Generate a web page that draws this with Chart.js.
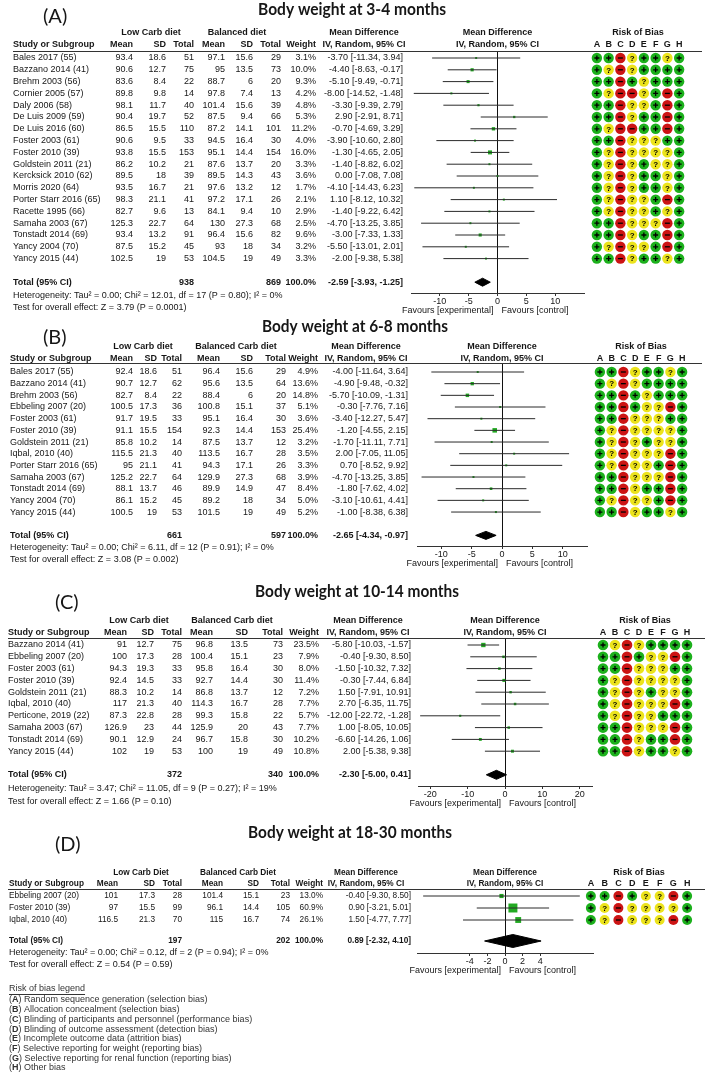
<!DOCTYPE html>
<html><head><meta charset="utf-8">
<script src="https://cdn.jsdelivr.net/npm/chart.js@4.4.1/dist/chart.umd.min.js"></script>
<style>
html,body{margin:0;padding:0;background:#fff;}
#page{position:relative;width:709px;height:1076px;overflow:hidden;background:#fff;}
#page canvas{position:absolute;left:0;}
</style></head><body><div id="page"></div>
<script>
// ================= DATA =================
// ---- Panel A: 3-4 months ----
const titleA = "Body weight at 3-4 months";
const groupsA = ["Low Carb diet", "Balanced diet"];
const studiesA = ["Bales 2017 (55)","Bazzano 2014 (41)","Brehm 2003 (56)","Cornier 2005 (57)","Daly 2006 (58)","De Luis 2009 (59)","De Luis 2016 (60)","Foster 2003 (61)","Foster 2010 (39)","Goldstein 2011 (21)","Kercksick 2010 (62)","Morris 2020 (64)","Porter Starr 2016 (65)","Racette 1995 (66)","Samaha 2003 (67)","Tonstadt 2014 (69)","Yancy 2004 (70)","Yancy 2015 (44)"];
const lcMeanA = [93.4,90.6,83.6,89.8,98.1,90.4,86.5,90.6,93.8,86.2,89.5,93.5,98.3,82.7,125.3,93.4,87.5,102.5];
const lcSdA = [18.6,12.7,8.4,9.8,11.7,19.7,15.5,9.5,15.5,10.2,18,16.7,21.1,9.6,22.7,13.2,15.2,19];
const lcNA = [51,75,22,14,40,52,110,33,153,21,39,21,41,13,64,91,45,53];
const bcMeanA = [97.1,95,88.7,97.8,101.4,87.5,87.2,94.5,95.1,87.6,89.5,97.6,97.2,84.1,130,96.4,93,104.5];
const bcSdA = [15.6,13.5,6,7.4,15.6,9.4,14.1,16.4,14.4,13.7,14.3,13.2,17.1,9.4,27.3,15.6,18,19];
const bcNA = [29,73,20,13,39,66,101,30,154,20,43,12,26,10,68,82,34,49];
const weightA = [3.1,10.0,9.3,4.2,4.8,5.3,11.2,4.0,16.0,3.3,3.6,1.7,2.1,2.9,2.5,9.6,3.2,3.3];
const mdA = [-3.70,-4.40,-5.10,-8.00,-3.30,2.90,-0.70,-3.90,-1.30,-1.40,0.00,-4.10,1.10,-1.40,-4.70,-3.00,-5.50,-2.00];
const loA = [-11.34,-8.63,-9.49,-14.52,-9.39,-2.91,-4.69,-10.60,-4.65,-8.82,-7.08,-14.43,-8.12,-9.22,-13.25,-7.33,-13.01,-9.38];
const hiA = [3.94,-0.17,-0.71,-1.48,2.79,8.71,3.29,2.80,2.05,6.02,7.08,6.23,10.32,6.42,3.85,1.33,2.01,5.38];
const robA = ["++-?++?+","+?-?++++","++-+?+++","+?--?+-+","++-??+-+","++-?++-+","+?--++-+","++-???++","+?-????+","+?-?+??+","+?-?++?+","+?-?++?+","+?-??+-+","+?-??+?+","++-???-+","++-?++-+","+?-??+-+","++-?++?+"];
const totalA = [938, 869, -2.59, -3.93, -1.25];
const hetA = "Heterogeneity: Tau² = 0.00; Chi² = 12.01, df = 17 (P = 0.80); I² = 0%";
const testA = "Test for overall effect: Z = 3.79 (P = 0.0001)";
const ticksA = [-10, -5, 0, 5, 10];

// ---- Panel B: 6-8 months ----
const titleB = "Body weight at 6-8 months";
const groupsB = ["Low Carb diet", "Balanced Carb diet"];
const studiesB = ["Bales 2017 (55)","Bazzano 2014 (41)","Brehm 2003 (56)","Ebbeling 2007 (20)","Foster 2003 (61)","Foster 2010 (39)","Goldstein 2011 (21)","Iqbal, 2010 (40)","Porter Starr 2016 (65)","Samaha 2003 (67)","Tonstadt 2014 (69)","Yancy 2004 (70)","Yancy 2015 (44)"];
const lcMeanB = [92.4,90.7,82.7,100.5,91.7,91.1,85.8,115.5,95,125.2,88.1,86.1,100.5];
const lcSdB = [18.6,12.7,8.4,17.3,19.5,15.5,10.2,21.3,21.1,22.7,13.7,15.2,19];
const lcNB = [51,62,22,36,33,154,14,40,41,64,46,45,53];
const bcMeanB = [96.4,95.6,88.4,100.8,95.1,92.3,87.5,113.5,94.3,129.9,89.9,89.2,101.5];
const bcSdB = [15.6,13.5,6,15.1,16.4,14.4,13.7,16.7,17.1,27.3,14.9,18,19];
const bcNB = [29,64,20,37,30,153,12,28,26,68,47,34,49];
const weightB = [4.9,13.6,14.8,5.1,3.6,25.4,3.2,3.5,3.3,3.9,8.4,5.0,5.2];
const mdB = [-4.00,-4.90,-5.70,-0.30,-3.40,-1.20,-1.70,2.00,0.70,-4.70,-1.80,-3.10,-1.00];
const loB = [-11.64,-9.48,-10.09,-7.76,-12.27,-4.55,-11.11,-7.05,-8.52,-13.25,-7.62,-10.61,-8.38];
const hiB = [3.64,-0.32,-1.31,7.16,5.47,2.15,7.71,11.05,9.92,3.85,4.02,4.41,6.38];
const robB = ["++-?++?+","+?-?++++","++-+?+++","++-+??-+","++-???++","+?-????+","+?-?+??+","+?-???-+","+?-??+-+","++-???-+","++-?++-+","+?-??+-+","++-?++?+"];
const totalB = [661, 597, -2.65, -4.34, -0.97];
const hetB = "Heterogeneity: Tau² = 0.00; Chi² = 6.11, df = 12 (P = 0.91); I² = 0%";
const testB = "Test for overall effect: Z = 3.08 (P = 0.002)";
const ticksB = [-10, -5, 0, 5, 10];

// ---- Panel C: 10-14 months ----
const titleC = "Body weight at 10-14 months";
const groupsC = ["Low Carb diet", "Balanced Carb diet"];
const studiesC = ["Bazzano 2014 (41)","Ebbeling 2007 (20)","Foster 2003 (61)","Foster 2010 (39)","Goldstein 2011 (21)","Iqbal, 2010 (40)","Perticone, 2019 (22)","Samaha 2003 (67)","Tonstadt 2014 (69)","Yancy 2015 (44)"];
const lcMeanC = [91,100,94.3,92.4,88.3,117,87.3,126.9,90.1,102];
const lcSdC = [12.7,17.3,19.3,14.5,10.2,21.3,22.8,23,12.9,19];
const lcNC = [75,28,33,33,14,40,28,44,24,53];
const bcMeanC = [96.8,100.4,95.8,92.7,86.8,114.3,99.3,125.9,96.7,100];
const bcSdC = [13.5,15.1,16.4,14.4,13.7,16.7,15.8,20,15.8,19];
const bcNC = [73,23,30,30,12,28,22,43,30,49];
const weightC = [23.5,7.9,8.0,11.4,7.2,7.7,5.7,7.7,10.2,10.8];
const mdC = [-5.80,-0.40,-1.50,-0.30,1.50,2.70,-12.00,1.00,-6.60,2.00];
const loC = [-10.03,-9.30,-10.32,-7.44,-7.91,-6.35,-22.72,-8.05,-14.26,-5.38];
const hiC = [-1.57,8.50,7.32,6.84,10.91,11.75,-1.28,10.05,1.06,9.38];
const robC = ["+?-?++++","++-+??-+","++-???++","+?-????+","+?-?+??+","+?-???-+","+?-??+++","++-???-+","++-?++-+","++-?++?+"];
const totalC = [372, 340, -2.30, -5.00, 0.41];
const hetC = "Heterogeneity: Tau² = 3.47; Chi² = 11.05, df = 9 (P = 0.27); I² = 19%";
const testC = "Test for overall effect: Z = 1.66 (P = 0.10)";
const ticksC = [-20, -10, 0, 10, 20];

// ---- Panel D: 18-30 months ----
const titleD = "Body weight at 18-30 months";
const groupsD = ["Low Carb Diet", "Balanced Carb Diet"];
const studiesD = ["Ebbeling 2007 (20)","Foster 2010 (39)","Iqbal, 2010 (40)"];
const lcMeanD = [101,97,116.5];
const lcSdD = [17.3,15.5,21.3];
const lcND = [28,99,70];
const bcMeanD = [101.4,96.1,115];
const bcSdD = [15.1,14.4,16.7];
const bcND = [23,105,74];
const weightD = [13.0,60.9,26.1];
const mdD = [-0.40,0.90,1.50];
const loD = [-9.30,-3.21,-4.77];
const hiD = [8.50,5.01,7.77];
const robD = ["++-+??-+","+?-????+","+?-???-+"];
const totalD = [197, 202, 0.89, -2.32, 4.10];
const hetD = "Heterogeneity: Tau² = 0.00; Chi² = 0.12, df = 2 (P = 0.94); I² = 0%";
const testD = "Test for overall effect: Z = 0.54 (P = 0.59)";
const ticksD = [-4, -2, 0, 2, 4];

// ---- shared text ----
const robLetters = ["A","B","C","D","E","F","G","H"];
const robLegendTitle = "Risk of bias legend";
const robLegend = ["Random sequence generation (selection bias)","Allocation concealment (selection bias)","Blinding of participants and personnel (performance bias)","Blinding of outcome assessment (detection bias)","Incomplete outcome data (attrition bias)","Selective reporting for weight (reporting bias)","Selective reporting for renal function (reporting bias)","Other bias"];
const headerText = ["Study or Subgroup","Mean","SD","Total","Weight","Mean Difference","IV, Random, 95% CI","Risk of Bias","Total (95% CI)","100.0%","Favours [experimental]","Favours [control]"];

// ================= LAYOUT (positions / styles) =================
const FONT = '"Liberation Sans", Arial, sans-serif';
const INK = '#161616';
const ROB_COLORS = {'+':'#1cb01c','?':'#ece31c','-':'#cc1414'};
const SQ_COLOR = '#22aa22';
const layoutA = {top:0,bottom:318,titleY:10,tcx:352,tw:188,labX:43,labY:17,h1Y:33,h2Y:45,lineY:51,row0:58,sp:11.8,totalIdx:19,hetY:296,testY:308,axisY:293,fx:[411,584],range:[-15,15],rx:[591,685],rr:5.2,mk:1.0,dh:4,lineX:[13,702],sx:1,
  cols:{study:13,m1:133,s1:166,n1:194,m2:225,s2:253,n2:281,w:316,ci:403,g1:151,g2:237,mdc:364}};
const layoutB = {top:318,bottom:575,titleY:327,tcx:355,tw:186,labX:43,labY:338,h1Y:347,h2Y:359,lineY:363,row0:372,sp:11.67,totalIdx:14,hetY:548,testY:560,axisY:546,fx:[417,587],range:[-14,14],rx:[594,688],rr:5.2,mk:0.9,dh:4,lineX:[10,702],sx:1,
  cols:{study:10,m1:133,s1:157,n1:182,m2:220,s2:253,n2:286,w:318,ci:408,g1:143,g2:236,mdc:366}};
const layoutC = {top:575,bottom:815,titleY:592,tcx:357,tw:204,labX:55,labY:603,h1Y:621,h2Y:633,lineY:638,row0:645,sp:11.8,totalIdx:11,hetY:789,testY:802,axisY:786,fx:[418,592],range:[-23.3,23.3],rx:[597,693],rr:5.3,mk:0.9,dh:4.5,lineX:[8,705],sx:1,
  cols:{study:8,m1:127,s1:154,n1:182,m2:213,s2:248,n2:283,w:319,ci:411,g1:139,g2:232,mdc:368}};
const layoutD = {top:815,bottom:1076,titleY:833,tcx:350,tw:204,labX:55,labY:845,h1Y:873,h2Y:884,lineY:889,row0:896,sp:12,totalIdx:3.75,hetY:953,testY:965,axisY:953,fx:[417,593],range:[-10,10],rx:[584,694],rr:5,mk:1.15,dh:6.5,lineX:[8,705],sx:0.92,
  cols:{study:9,m1:118,s1:155,n1:182,m2:223,s2:259,n2:290,w:323,ci:411,g1:141,g2:238,mdc:366},
  legend:{x:9,titleY:989,y0:1000,sp:9.7}};

const panels = [
  {label:'(A)',title:titleA,groups:groupsA,studies:studiesA,m1:lcMeanA,s1:lcSdA,n1:lcNA,m2:bcMeanA,s2:bcSdA,n2:bcNA,w:weightA,md:mdA,lo:loA,hi:hiA,rob:robA,total:totalA,het:hetA,test:testA,ticks:ticksA,Lt:layoutA},
  {label:'(B)',title:titleB,groups:groupsB,studies:studiesB,m1:lcMeanB,s1:lcSdB,n1:lcNB,m2:bcMeanB,s2:bcSdB,n2:bcNB,w:weightB,md:mdB,lo:loB,hi:hiB,rob:robB,total:totalB,het:hetB,test:testB,ticks:ticksB,Lt:layoutB},
  {label:'(C)',title:titleC,groups:groupsC,studies:studiesC,m1:lcMeanC,s1:lcSdC,n1:lcNC,m2:bcMeanC,s2:bcSdC,n2:bcNC,w:weightC,md:mdC,lo:loC,hi:hiC,rob:robC,total:totalC,het:hetC,test:testC,ticks:ticksC,Lt:layoutC},
  {label:'(D)',title:titleD,groups:groupsD,studies:studiesD,m1:lcMeanD,s1:lcSdD,n1:lcND,m2:bcMeanD,s2:bcSdD,n2:bcND,w:weightD,md:mdD,lo:loD,hi:hiD,rob:robD,total:totalD,het:hetD,test:testD,ticks:ticksD,Lt:layoutD}
];

// ================= DRAWING =================
const page = document.getElementById('page');
const XH = 24;
const fmtCI = (m,l,h) => m.toFixed(2) + ' [' + l.toFixed(2) + ', ' + h.toFixed(2) + ']';

function newCanvas(Lt){
  const cv = document.createElement('canvas');
  cv.width = 709; cv.height = Lt.bottom - Lt.top;
  cv.style.top = Lt.top + 'px';
  cv.style.width = '709px'; cv.style.height = (Lt.bottom - Lt.top) + 'px';
  page.appendChild(cv);
  return cv;
}
function yRange(Lt){
  const yMin = -(Lt.row0 - Lt.lineY) / Lt.sp;
  return [yMin, yMin + (Lt.axisY - Lt.lineY) / Lt.sp];
}

function forestText(P){
  const Lt = P.Lt, c = Lt.cols;
  return {id:'forestText', afterDraw(chart){
    const ctx = chart.ctx, ys = chart.scales.y, xs = chart.scales.x, ca = chart.chartArea;
    const L = v => v - Lt.top;
    const B = 'bold 9px ' + FONT, R = '9px ' + FONT;
    const t = (s, x, y, a, f, sx) => {
      s = String(s); ctx.font = f; ctx.textAlign = a;
      const k = sx === undefined ? Lt.sx : sx;
      if (k < 1) ctx.fillText(s, x, y, ctx.measureText(s).width * k); else ctx.fillText(s, x, y);
    };
    ctx.save();
    ctx.fillStyle = INK; ctx.textBaseline = 'middle';
    ctx.font = 'bold 17px Lato, "Open Sans", sans-serif'; ctx.textAlign = 'center';
    ctx.fillText(P.title, Lt.tcx, L(Lt.titleY), Lt.tw);
    t(P.label, Lt.labX, L(Lt.labY), 'left', '20px Lato, "Open Sans", sans-serif', 1);
    // headers
    t(P.groups[0], c.g1, L(Lt.h1Y), 'center', B);
    t(P.groups[1], c.g2, L(Lt.h1Y), 'center', B);
    t(headerText[5], c.mdc, L(Lt.h1Y), 'center', B);
    t(headerText[5], (ca.left + ca.right) / 2, L(Lt.h1Y), 'center', B);
    t(headerText[0], c.study, L(Lt.h2Y), 'left', B);
    [[headerText[1],c.m1],[headerText[2],c.s1],[headerText[3],c.n1],[headerText[1],c.m2],[headerText[2],c.s2],[headerText[3],c.n2],[headerText[4],c.w]]
      .forEach(([s,x]) => t(s, x, L(Lt.h2Y), 'right', B));
    t(headerText[6], c.mdc, L(Lt.h2Y), 'center', B);
    t(headerText[6], (ca.left + ca.right) / 2, L(Lt.h2Y), 'center', B);
    // header rule
    ctx.strokeStyle = '#333'; ctx.lineWidth = 1;
    ctx.beginPath(); ctx.moveTo(Lt.lineX[0], Math.round(ca.top) + 0.5); ctx.lineTo(Lt.lineX[1], Math.round(ca.top) + 0.5); ctx.stroke();
    // rows
    P.studies.forEach((s, i) => {
      const y = ys.getPixelForValue(i);
      t(s, c.study, y, 'left', R);
      t(P.m1[i], c.m1, y, 'right', R); t(P.s1[i], c.s1, y, 'right', R); t(P.n1[i], c.n1, y, 'right', R);
      t(P.m2[i], c.m2, y, 'right', R); t(P.s2[i], c.s2, y, 'right', R); t(P.n2[i], c.n2, y, 'right', R);
      t(P.w[i].toFixed(1) + '%', c.w, y, 'right', R);
      t(fmtCI(P.md[i], P.lo[i], P.hi[i]), c.ci, y, 'right', R);
    });
    const ty = ys.getPixelForValue(Lt.totalIdx);
    t(headerText[8], c.study, ty, 'left', B);
    t(P.total[0], c.n1, ty, 'right', B);
    t(P.total[1], c.n2, ty, 'right', B);
    t(headerText[9], c.w, ty, 'right', B);
    t(fmtCI(P.total[2], P.total[3], P.total[4]), c.ci, ty, 'right', B);
    t(P.het, c.study, L(Lt.hetY), 'left', R, 1);
    t(P.test, c.study, L(Lt.testY), 'left', R, 1);
    // favours labels
    const z = xs.getPixelForValue(0), fy = ca.bottom + 18;
    t(headerText[10], z - 4, fy, 'right', R, 1);
    t(headerText[11], z + 4, fy, 'left', R, 1);
    // legend (panel D)
    if (Lt.legend) {
      const g = Lt.legend;
      ctx.fillStyle = '#333';
      t(robLegendTitle, g.x, L(g.titleY), 'left', R, 1);
      ctx.font = R; const lw = ctx.measureText(robLegendTitle).width;
      ctx.strokeStyle = '#333'; ctx.beginPath(); ctx.moveTo(g.x, L(g.titleY) + 5.5); ctx.lineTo(g.x + lw, L(g.titleY) + 5.5); ctx.stroke();
      robLegend.forEach((s, k) => {
        const y = L(g.y0 + k * g.sp);
        let x = g.x;
        ctx.font = R; ctx.textAlign = 'left'; ctx.fillText('(', x, y); x += ctx.measureText('(').width;
        ctx.font = B; ctx.fillText(robLetters[k], x, y); x += ctx.measureText(robLetters[k]).width;
        ctx.font = R; ctx.fillText(') ' + s, x, y);
      });
    }
    ctx.restore();
  }};
}

function makeForest(P){
  const Lt = P.Lt, cv = newCanvas(Lt), H = Lt.bottom - Lt.top;
  const [yMin, yMax] = yRange(Lt);
  const datasets = [];
  P.studies.forEach((s, i) => datasets.push({type:'line', data:[{x:P.lo[i], y:i},{x:P.hi[i], y:i}], borderColor:'#2a2a2a', borderWidth:1, pointRadius:0, fill:false}));
  datasets.push({type:'scatter', data:P.md.map((m, i) => ({x:m, y:i})), pointStyle:'rect',
    pointRadius:P.w.map(w => Math.max(2, Lt.mk * Math.sqrt(w)) / Math.SQRT2), backgroundColor:SQ_COLOR, borderColor:SQ_COLOR, borderWidth:0});
  const r = Lt.totalIdx, d = Lt.dh / Lt.sp, T = P.total;
  datasets.push({type:'line', data:[{x:T[3],y:r},{x:T[2],y:r-d},{x:T[4],y:r},{x:T[2],y:r+d},{x:T[3],y:r}],
    borderColor:'#000', backgroundColor:'#000', borderWidth:1, pointRadius:0, fill:'shape', tension:0});
  new Chart(cv, {type:'scatter', data:{datasets},
    options:{responsive:false, animation:false, devicePixelRatio:1, events:[],
      layout:{padding:{left:Lt.fx[0], right:709 - Lt.fx[1], top:Lt.lineY - Lt.top, bottom:H - (Lt.axisY - Lt.top) - XH}},
      plugins:{legend:{display:false}, tooltip:{enabled:false}},
      scales:{
        x:{type:'linear', min:Lt.range[0], max:Lt.range[1],
          afterBuildTicks:s => { s.ticks = P.ticks.map(v => ({value:v})); },
          afterFit:s => { s.height = XH; },
          ticks:{font:{family:FONT, size:9}, color:INK, padding:0, maxRotation:0, autoSkip:false, callback:v => String(v)},
          grid:{color:c => (c.tick && c.tick.value === 0) ? '#111' : 'rgba(0,0,0,0)', tickColor:'#333', tickLength:3, lineWidth:1},
          border:{display:true, color:'#333', width:1}},
        y:{type:'linear', reverse:true, min:yMin, max:yMax, display:false}
      }},
    plugins:[forestText(P)]});
}

function robSymbols(P){
  const Lt = P.Lt;
  return {id:'robSymbols', afterDatasetsDraw(chart){
    const ctx = chart.ctx, meta = chart.getDatasetMeta(0), xs = chart.scales.x, ca = chart.chartArea;
    const L = v => v - Lt.top;
    ctx.save();
    ctx.fillStyle = INK; ctx.strokeStyle = '#000'; ctx.textBaseline = 'middle'; ctx.textAlign = 'center';
    ctx.font = 'bold 9px ' + FONT;
    ctx.fillText(headerText[7], (ca.left + ca.right) / 2, L(Lt.h1Y));
    robLetters.forEach((l, j) => ctx.fillText(l, xs.getPixelForValue(j), L(Lt.h2Y)));
    const data = chart.data.datasets[0].data;
    meta.data.forEach((pt, k) => {
      const v = data[k].j, x = pt.x, y = pt.y;
      ctx.lineWidth = 1.3;
      if (v === '+') {
        ctx.beginPath(); ctx.moveTo(x - 2.5, y); ctx.lineTo(x + 2.5, y); ctx.moveTo(x, y - 2.5); ctx.lineTo(x, y + 2.5); ctx.stroke();
      } else if (v === '-') {
        ctx.beginPath(); ctx.moveTo(x - 2.5, y); ctx.lineTo(x + 2.5, y); ctx.stroke();
      } else {
        ctx.fillStyle = '#000'; ctx.font = 'bold 8px ' + FONT; ctx.fillText('?', x, y + 0.5);
      }
    });
    ctx.restore();
  }};
}

function makeRob(P){
  const Lt = P.Lt, cv = newCanvas(Lt), H = Lt.bottom - Lt.top;
  const [yMin, yMax] = yRange(Lt);
  const data = [];
  P.rob.forEach((row, i) => robLetters.forEach((l, j) => data.push({x:l, y:i, j:row[j]})));
  new Chart(cv, {type:'scatter', data:{datasets:[{data, pointRadius:Lt.rr, pointStyle:'circle',
      backgroundColor:c => ROB_COLORS[c.raw.j], borderColor:c => ROB_COLORS[c.raw.j], borderWidth:0}]},
    options:{responsive:false, animation:false, devicePixelRatio:1, events:[],
      layout:{padding:{left:Lt.rx[0], right:709 - Lt.rx[1], top:Lt.lineY - Lt.top, bottom:H - (Lt.axisY - Lt.top)}},
      plugins:{legend:{display:false}, tooltip:{enabled:false}},
      scales:{
        x:{type:'category', labels:robLetters, offset:true, display:false},
        y:{type:'linear', reverse:true, min:yMin, max:yMax, display:false}
      }},
    plugins:[robSymbols(P)]});
}

panels.forEach(P => { makeForest(P); makeRob(P); });
</script></body></html>
